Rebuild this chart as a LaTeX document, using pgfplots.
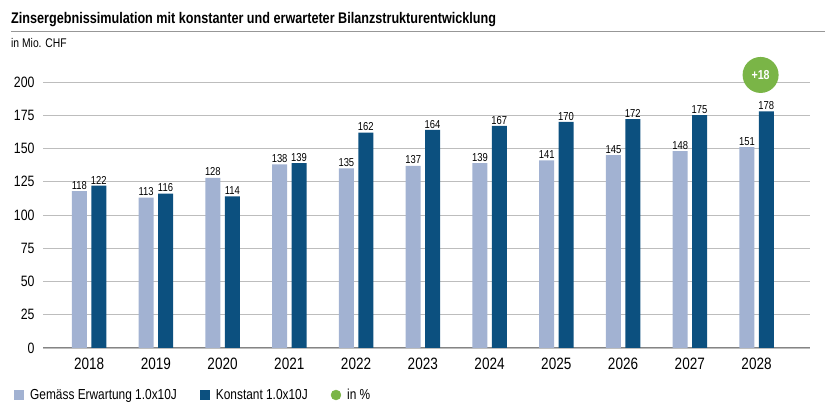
\documentclass[border=0pt]{standalone}
\usepackage{fontspec}
\setmainfont{Liberation Sans}[FakeStretch=0.82]
\usepackage{pgfplots}
\pgfplotsset{compat=1.18}

\definecolor{hell}{HTML}{A2B2D2}
\definecolor{dunkel}{HTML}{0C507F}
\definecolor{gruen}{HTML}{7AB547}
\definecolor{gitter}{HTML}{BDBDBD}

\begin{document}
\begin{tikzpicture}
  \useasboundingbox (0pt,0pt) rectangle (825pt,412pt);
  % Titel
  \node[anchor=base west, font=\fontsize{15.4}{17}\selectfont\bfseries, inner sep=0pt] at (11pt,388pt) {Zinsergebnissimulation mit konstanter und erwarteter Bilanzstrukturentwicklung};
  \draw[gitter!80!black, line width=1.6pt] (11pt,380.5pt) -- (825pt,380.5pt);
  \node[anchor=base west, font=\fontsize{12.6}{14}\selectfont, inner sep=0pt] at (11pt,364pt) {in Mio. CHF};

  \begin{axis}[
    at={(43pt,64pt)}, anchor=south west,
    scale only axis,
    width=767pt, height=266pt,
    xmin=2017.31, xmax=2028.8,
    ymin=0, ymax=200,
    axis x line*=bottom, axis y line*=left,
    axis line style={draw=none},
    ymajorgrids,
    grid style={gitter, line width=0.8pt},
    ytick={0,25,...,200},
    xtick={2018,...,2028},
    extra y ticks={0},
    extra y tick style={grid style={gitter!70!black, line width=1pt}, yticklabels={}},
    major tick length=0pt,
    /pgf/number format/assume math mode=true,
    /pgf/number format/.cd, 1000 sep={}, /pgfplots/.cd,
    yticklabel style={font=\fontsize{15}{17}\selectfont, xshift=-5pt},
    xticklabel style={font=\fontsize{16.5}{18}\selectfont, yshift=-6pt},
    clip=false,
    ybar,
    bar width=15pt,
    nodes near coords,
    nodes near coords style={font=\fontsize{11.5}{13}\selectfont, inner sep=1.5pt, /pgf/number format/assume math mode=true},
    legend columns=3,
    legend style={at={(axis description cs:0,0)}, anchor=west, xshift=-32pt, yshift=-47pt,
      draw=none, fill=none, font=\fontsize{14.5}{16}\selectfont,
      /tikz/every odd column/.style={column sep=4pt},
      /tikz/every even column/.style={column sep=21pt}},
    legend cell align=left,
  ]
    \addplot[fill=hell, draw=none, bar shift=-9.7pt,
      legend image code/.code={\fill[hell] (0pt,-5pt) rectangle (10pt,5pt);}]
      coordinates {(2018,118) (2019,113) (2020,128) (2021,138) (2022,135) (2023,137)
                   (2024,139) (2025,141) (2026,145) (2027,148) (2028,151)};
    \addlegendentry{Gemäss Erwartung 1.0x10J}
    \addplot[fill=dunkel, draw=none, bar shift=9.7pt,
      legend image code/.code={\fill[dunkel] (0pt,-5pt) rectangle (10pt,5pt);}]
      coordinates {(2018,122) (2019,116) (2020,114) (2021,139) (2022,162) (2023,164)
                   (2024,167) (2025,170) (2026,172) (2027,175) (2028,178)};
    \addlegendentry{Konstant 1.0x10J}
    \addlegendimage{legend image code/.code={\fill[gruen] (5pt,0pt) circle (5pt);}}
    \addlegendentry{in \%}
    \node[circle, fill=gruen, text=white, minimum size=36pt, inner sep=0pt,
      font=\fontsize{13}{15}\selectfont\bfseries] at (axis cs:2028.06,205.3) {+18};
  \end{axis}
\end{tikzpicture}
\end{document}
